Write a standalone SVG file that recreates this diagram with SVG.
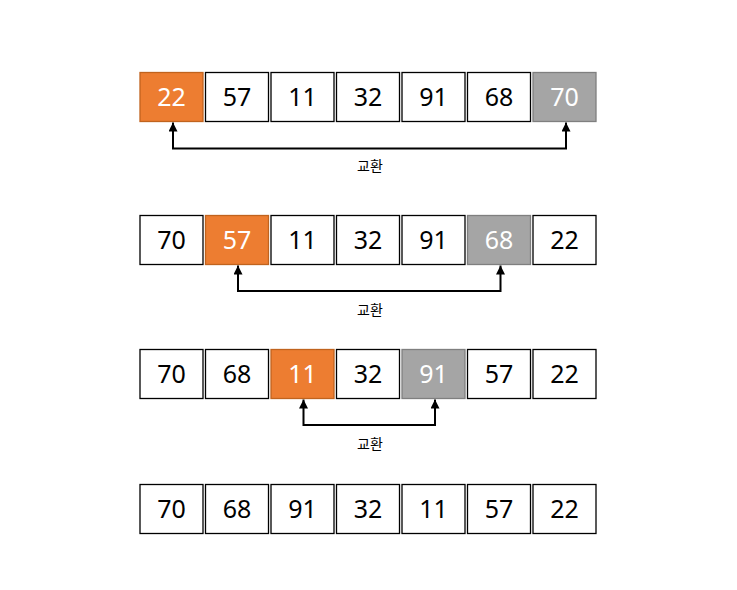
<svg xmlns="http://www.w3.org/2000/svg" width="737" height="590" viewBox="0 0 737 590">
<defs>
<marker id="ah" viewBox="0 0 10 10" refX="10" refY="5" markerWidth="9" markerHeight="9" markerUnits="userSpaceOnUse" orient="auto-start-reverse">
<path d="M0,0 L10,5 L0,10 Z" fill="#000"/>
</marker>
<style>
.b rect{fill:#fff;stroke:#000;stroke-width:1.3}
.b.o rect{fill:#ED7D31;stroke:#C0631E}
.b.g rect{fill:#A5A5A5;stroke:#7F7F7F}
.b text{font-family:"Noto Sans","DejaVu Sans",sans-serif;font-size:25px;text-anchor:middle;fill:#000}
.b.o text,.b.g text{fill:#fff}
.c{fill:none;stroke:#000;stroke-width:2}
.l{font-family:"Noto Sans CJK KR","Noto Sans",sans-serif;font-size:14px;text-anchor:middle;fill:#000}
</style>
</defs>
<rect width="737" height="590" fill="#fff"/>
<!-- Row 1 -->
<g id="r1n1" class="b o"><rect x="140" y="72.5" width="63" height="49"/><text x="171.5" y="106">22</text></g>
<g id="r1n2" class="b"><rect x="205.5" y="72.5" width="63" height="49"/><text x="237" y="106">57</text></g>
<g id="r1n3" class="b"><rect x="271" y="72.5" width="63" height="49"/><text x="302.5" y="106">11</text></g>
<g id="r1n4" class="b"><rect x="336.5" y="72.5" width="63" height="49"/><text x="368" y="106">32</text></g>
<g id="r1n5" class="b"><rect x="402" y="72.5" width="63" height="49"/><text x="433.5" y="106">91</text></g>
<g id="r1n6" class="b"><rect x="467.5" y="72.5" width="63" height="49"/><text x="499" y="106">68</text></g>
<g id="r1n7" class="b g"><rect x="533" y="72.5" width="63" height="49"/><text x="564.5" y="106">70</text></g>
<!-- Row 2 -->
<g id="r2n1" class="b"><rect x="140" y="215.5" width="63" height="49"/><text x="171.5" y="249">70</text></g>
<g id="r2n2" class="b o"><rect x="205.5" y="215.5" width="63" height="49"/><text x="237" y="249">57</text></g>
<g id="r2n3" class="b"><rect x="271" y="215.5" width="63" height="49"/><text x="302.5" y="249">11</text></g>
<g id="r2n4" class="b"><rect x="336.5" y="215.5" width="63" height="49"/><text x="368" y="249">32</text></g>
<g id="r2n5" class="b"><rect x="402" y="215.5" width="63" height="49"/><text x="433.5" y="249">91</text></g>
<g id="r2n6" class="b g"><rect x="467.5" y="215.5" width="63" height="49"/><text x="499" y="249">68</text></g>
<g id="r2n7" class="b"><rect x="533" y="215.5" width="63" height="49"/><text x="564.5" y="249">22</text></g>
<!-- Row 3 -->
<g id="r3n1" class="b"><rect x="140" y="349.5" width="63" height="49"/><text x="171.5" y="383">70</text></g>
<g id="r3n2" class="b"><rect x="205.5" y="349.5" width="63" height="49"/><text x="237" y="383">68</text></g>
<g id="r3n3" class="b o"><rect x="271" y="349.5" width="63" height="49"/><text x="302.5" y="383">11</text></g>
<g id="r3n4" class="b"><rect x="336.5" y="349.5" width="63" height="49"/><text x="368" y="383">32</text></g>
<g id="r3n5" class="b g"><rect x="402" y="349.5" width="63" height="49"/><text x="433.5" y="383">91</text></g>
<g id="r3n6" class="b"><rect x="467.5" y="349.5" width="63" height="49"/><text x="499" y="383">57</text></g>
<g id="r3n7" class="b"><rect x="533" y="349.5" width="63" height="49"/><text x="564.5" y="383">22</text></g>
<!-- Row 4 -->
<g id="r4n1" class="b"><rect x="140" y="484.5" width="63" height="49"/><text x="171.5" y="518">70</text></g>
<g id="r4n2" class="b"><rect x="205.5" y="484.5" width="63" height="49"/><text x="237" y="518">68</text></g>
<g id="r4n3" class="b"><rect x="271" y="484.5" width="63" height="49"/><text x="302.5" y="518">91</text></g>
<g id="r4n4" class="b"><rect x="336.5" y="484.5" width="63" height="49"/><text x="368" y="518">32</text></g>
<g id="r4n5" class="b"><rect x="402" y="484.5" width="63" height="49"/><text x="433.5" y="518">11</text></g>
<g id="r4n6" class="b"><rect x="467.5" y="484.5" width="63" height="49"/><text x="499" y="518">57</text></g>
<g id="r4n7" class="b"><rect x="533" y="484.5" width="63" height="49"/><text x="564.5" y="518">22</text></g>
<!-- Connectors -->
<g id="connectors">
<path class="c" d="M173,122.5 V148.5 H566 V122.5" marker-start="url(#ah)" marker-end="url(#ah)"/>
<path class="c" d="M238,265.5 V291 H500.5 V265.5" marker-start="url(#ah)" marker-end="url(#ah)"/>
<path class="c" d="M303.5,399.5 V425 H435 V399.5" marker-start="url(#ah)" marker-end="url(#ah)"/>
<text class="l" x="370" y="171">교환</text>
<text class="l" x="370" y="315">교환</text>
<text class="l" x="370" y="449">교환</text>
</g>
</svg>
